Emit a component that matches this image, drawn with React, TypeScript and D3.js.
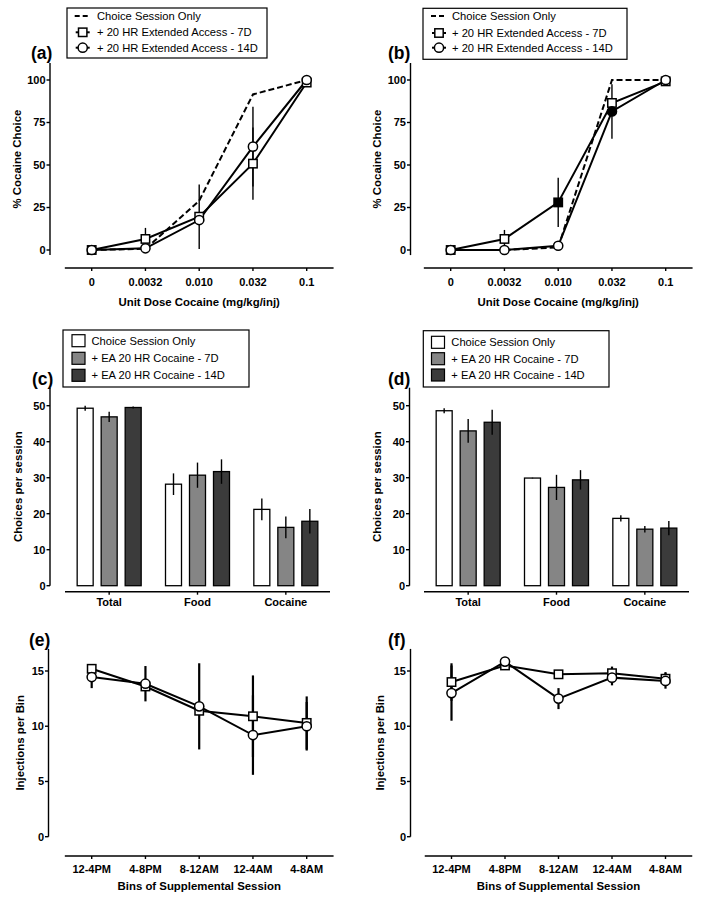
import React from "react";
import * as d3 from "d3";

// ---------- DATA ----------
const doseLabels = ["0", "0.0032", "0.010", "0.032", "0.1"];

const aChoiceOnly = [0, 0.7, 29, 91.5, 100];
const a7D = [0, 6.5, 19.6, 50.8, 98.5];
const a7DErr = [0, 6.5, 19, 21.3, 0];
const a14D = [0, 1, 17.6, 60.8, 100];
const a14DErr = [0, 0, 0, 23.5, 0];

const bChoiceOnly = [0, 0, 1.5, 100, 100];
const b7D = [0, 6.5, 28, 86.5, 99.2];
const b7DErr = [0, 5.3, 14.5, 0, 0];
const b7DFilled = [false, false, true, false, false];
const b14D = [0, 0, 2.5, 81.5, 100];
const b14DErr = [0, 0, 0, 16, 0];
const b14DFilled = [false, false, false, true, false];

const groups = ["Total", "Food", "Cocaine"];
const cChoiceOnly = [49.3, 28.2, 21.2];
const cChoiceOnlyErr = [0.7, 3, 3];
const c7D = [46.9, 30.7, 16.2];
const c7DErr = [1.4, 3.5, 3];
const c14D = [49.5, 31.7, 17.9];
const c14DErr = [0.3, 3.4, 3.4];

const dChoiceOnly = [48.6, 29.9, 18.7];
const dChoiceOnlyErr = [0.7, 0.1, 0.9];
const d7D = [43.0, 27.3, 15.7];
const d7DErr = [3.3, 3.5, 0.9];
const d14D = [45.4, 29.4, 16.0];
const d14DErr = [3.5, 2.7, 2.0];

const bins = ["12-4PM", "4-8PM", "8-12AM", "12-4AM", "4-8AM"];
const e7D = [15.2, 13.6, 11.4, 10.9, 10.3];
const e7DErr = [0, 0, 0, 3.7, 2.4];
const e14D = [14.45, 13.85, 11.8, 9.2, 10.0];
const e14DErr = [1.0, 1.6, 3.9, 3.6, 2.2];

const f7D = [14.0, 15.5, 14.7, 14.8, 14.3];
const f7DErr = [1.7, 0, 0, 0.6, 0.6];
const f14D = [13.0, 15.85, 12.5, 14.4, 14.1];
const f14DErr = [2.5, 0, 0.95, 0.7, 0.7];

const lineLegend = ["Choice Session Only", "+ 20 HR Extended Access - 7D", "+ 20 HR Extended Access - 14D"];
const barLegend = ["Choice Session Only", "+ EA 20 HR Cocaine - 7D", "+ EA 20 HR Cocaine - 14D"];
const barColors = ["#ffffff", "#858585", "#3b3b3b"];

const pctTicks = [0, 25, 50, 75, 100];
const choiceTicks = [0, 10, 20, 30, 40, 50];
const injTicks = [0, 5, 10, 15];

const FONT = "'Liberation Sans', Arial, Helvetica, sans-serif";
const TICK_FS = 11;
const TITLE_FS = 11.4;
const LEG_FS = 11.2;
const PANEL_FS = 17.5;

type Series = {
  values: number[];
  err: number[];
  marker: "square" | "circle" | "none";
  dashed?: boolean;
  filled?: boolean[];
};

function Marker({ kind, x, y, filled }: { kind: string; x: number; y: number; filled?: boolean }) {
  const fill = filled ? "#000" : "#fff";
  if (kind === "square")
    return <rect x={x - 4.2} y={y - 4.2} width={8.4} height={8.4} fill={fill} stroke="#000" strokeWidth={1.5} />;
  if (kind === "circle") return <circle cx={x} cy={y} r={4.6} fill={fill} stroke="#000" strokeWidth={1.5} />;
  return null;
}

function YAxis({ x, y, ticks, ext }: { x: number; y: d3.ScaleLinear<number, number>; ticks: number[]; ext: [number, number] }) {
  return (
    <g>
      <line x1={x} x2={x} y1={y(ext[1])} y2={y(ext[0])} stroke="#000" strokeWidth={1.4} />
      {ticks.map((t) => (
        <g key={t}>
          <line x1={x - 3.5} x2={x} y1={y(t)} y2={y(t)} stroke="#000" strokeWidth={1.4} />
          <text x={x - 4.5} y={y(t)} dy="0.36em" textAnchor="end" fontSize={TICK_FS} fontWeight="bold" fontFamily={FONT}>
            {t}
          </text>
        </g>
      ))}
    </g>
  );
}

function LinePanel(p: {
  firstX: number;
  step: number;
  yAxisX: number;
  yScale: d3.ScaleLinear<number, number>;
  yTicks: number[];
  yExt: [number, number];
  xAxisY: number;
  cats: string[];
  series: Series[];
  ylabel: string;
  ylabelX: number;
  xlabel: string;
  tickLabelY: number;
  xlabelY: number;
  panel: string;
  panelX: number;
  panelY: number;
  errW: number;
  legend?: { x: number; y: number; w: number; h: number; symX: number; textX: number; rows: number[] };
}) {
  const x = d3.scaleLinear().domain([0, p.cats.length - 1]).range([p.firstX, p.firstX + p.step * (p.cats.length - 1)]);
  const y = p.yScale;
  const idx = d3.range(p.cats.length);
  const ymid = (y(p.yExt[0]) + y(p.yExt[1])) / 2;
  return (
    <g>
      <text x={p.panelX} y={p.panelY} fontSize={PANEL_FS} fontWeight="bold" fontFamily={FONT}>
        {p.panel}
      </text>
      <YAxis x={p.yAxisX} y={y} ticks={p.yTicks} ext={p.yExt} />
      <line x1={x(-0.5)} x2={x(p.cats.length - 0.5)} y1={p.xAxisY} y2={p.xAxisY} stroke="#000" strokeWidth={1.4} />
      {idx.map((i) => (
        <g key={i}>
          <line x1={x(i)} x2={x(i)} y1={p.xAxisY} y2={p.xAxisY + 3} stroke="#000" strokeWidth={1.4} />
          <text x={x(i)} y={p.tickLabelY} textAnchor="middle" fontSize={TICK_FS} fontWeight="bold" fontFamily={FONT}>
            {p.cats[i]}
          </text>
        </g>
      ))}
      <text x={(x(-0.5) + x(p.cats.length - 0.5)) / 2} y={p.xlabelY} textAnchor="middle" fontSize={TITLE_FS} fontWeight="bold" fontFamily={FONT}>
        {p.xlabel}
      </text>
      <text transform={`translate(${p.ylabelX},${ymid}) rotate(-90)`} textAnchor="middle" dy="0.35em" fontSize={TITLE_FS} fontWeight="bold" fontFamily={FONT}>
        {p.ylabel}
      </text>
      {p.series.map((s, k) => {
        const gen = d3
          .line<number>()
          .x((_, i) => x(i))
          .y((v) => y(v));
        return (
          <path key={k} d={gen(s.values) || ""} fill="none" stroke="#000" strokeWidth={2} strokeDasharray={s.dashed ? "6,3" : undefined} />
        );
      })}
      {p.series.map((s, k) =>
        s.values.map((v, i) =>
          s.err[i] > 0 ? (
            <line key={`e${k}-${i}`} x1={x(i)} x2={x(i)} y1={y(v + s.err[i])} y2={y(v - s.err[i])} stroke="#000" strokeWidth={p.errW} />
          ) : null
        )
      )}
      {p.series.map((s, k) =>
        s.values.map((v, i) => <Marker key={`m${k}-${i}`} kind={s.marker} x={x(i)} y={y(v)} filled={s.filled ? s.filled[i] : false} />)
      )}
      {p.legend && (
        <g>
          <rect x={p.legend.x} y={p.legend.y} width={p.legend.w} height={p.legend.h} fill="#fff" stroke="#000" strokeWidth={1.2} />
          {lineLegend.map((lab, i) => {
            const ly = p.legend!.rows[i];
            const sx = p.legend!.symX;
            return (
              <g key={i}>
                {i === 0 ? (
                  <line x1={sx - 8} x2={sx + 8} y1={ly} y2={ly} stroke="#000" strokeWidth={2} strokeDasharray="5,3" />
                ) : (
                  <g>
                    <line x1={sx - 7} x2={sx + 7} y1={ly} y2={ly} stroke="#000" strokeWidth={2} />
                    <Marker kind={i === 1 ? "square" : "circle"} x={sx} y={ly} />
                  </g>
                )}
                <text x={p.legend!.textX} y={ly} dy="0.36em" fontSize={LEG_FS} fontFamily={FONT}>
                  {lab}
                </text>
              </g>
            );
          })}
        </g>
      )}
    </g>
  );
}

function BarPanel(p: {
  x0: number;
  x1: number;
  yAxisX: number;
  vals: number[][];
  errs: number[][];
  panel: string;
  panelX: number;
  panelY: number;
  ylabelX: number;
  legend: { x: number; y: number; w: number; h: number; symX: number; textX: number; rows: number[] };
}) {
  const y = d3.scaleLinear().domain([0, 50]).range([585.7, 405.7]);
  const xb = d3.scaleBand<string>().domain(groups).range([p.x0, p.x1]);
  const xAxisY = 591.7;
  const bw = 16;
  const gap = 24;
  const ymid = (y(0) + y(55)) / 2;
  return (
    <g>
      <text x={p.panelX} y={p.panelY} fontSize={PANEL_FS} fontWeight="bold" fontFamily={FONT}>
        {p.panel}
      </text>
      <YAxis x={p.yAxisX} y={y} ticks={choiceTicks} ext={[0, 55]} />
      <line x1={p.x0} x2={p.x1} y1={xAxisY} y2={xAxisY} stroke="#000" strokeWidth={1.4} />
      {groups.map((g) => {
        const cx = (xb(g) as number) + xb.bandwidth() / 2;
        return (
          <g key={g}>
            <line x1={cx} x2={cx} y1={xAxisY} y2={xAxisY + 3} stroke="#000" strokeWidth={1.4} />
            <text x={cx} y={606} textAnchor="middle" fontSize={TICK_FS} fontWeight="bold" fontFamily={FONT}>
              {g}
            </text>
          </g>
        );
      })}
      <text transform={`translate(${p.ylabelX},${ymid}) rotate(-90)`} textAnchor="middle" dy="0.35em" fontSize={TITLE_FS} fontWeight="bold" fontFamily={FONT}>
        Choices per session
      </text>
      {p.vals.map((sv, k) =>
        sv.map((v, gi) => {
          const cx = (xb(groups[gi]) as number) + xb.bandwidth() / 2 + (k - 1) * gap;
          const e = p.errs[k][gi];
          return (
            <g key={`${k}-${gi}`}>
              <rect x={cx - bw / 2} y={y(v)} width={bw} height={y(0) - y(v)} fill={barColors[k]} stroke="#000" strokeWidth={1.3} />
              {e > 0 && <line x1={cx} x2={cx} y1={y(v + e)} y2={y(v - e)} stroke="#000" strokeWidth={1.4} />}
            </g>
          );
        })
      )}
      <rect x={p.legend.x} y={p.legend.y} width={p.legend.w} height={p.legend.h} fill="#fff" stroke="#000" strokeWidth={1.2} />
      {barLegend.map((lab, i) => (
        <g key={i}>
          <rect x={p.legend.symX} y={p.legend.rows[i] - 6} width={13} height={12} fill={barColors[i]} stroke="#000" strokeWidth={1.2} />
          <text x={p.legend.textX} y={p.legend.rows[i]} dy="0.36em" fontSize={LEG_FS} fontFamily={FONT}>
            {lab}
          </text>
        </g>
      ))}
    </g>
  );
}

export default function App() {
  const yPct = d3.scaleLinear().domain([0, 100]).range([250, 80]);
  const yInj = d3.scaleLinear().domain([0, 15]).range([836.7, 671]);
  return (
    <svg width={707} height={900} style={{ position: "absolute", left: 0, top: 0, background: "#fff" }}>
      <rect width={707} height={900} fill="#fff" />
      <LinePanel
        firstX={91.7}
        step={53.75}
        yAxisX={50}
        yScale={yPct}
        yTicks={pctTicks}
        yExt={[-3, 110]}
        xAxisY={268}
        cats={doseLabels}
        series={[
          { values: aChoiceOnly, err: [0, 0, 0, 0, 0], marker: "none", dashed: true },
          { values: a7D, err: a7DErr, marker: "square" },
          { values: a14D, err: a14DErr, marker: "circle" },
        ]}
        ylabel="% Cocaine Choice"
        ylabelX={17}
        xlabel="Unit Dose Cocaine (mg/kg/inj)"
        tickLabelY={285.5}
        xlabelY={305.5}
        panel="(a)"
        panelX={31}
        panelY={59}
        errW={1.4}
        legend={{ x: 67, y: 8, w: 200, h: 50, symX: 82.7, textX: 97, rows: [16, 32.3, 47.7] }}
      />
      <LinePanel
        firstX={450.7}
        step={53.75}
        yAxisX={410.5}
        yScale={yPct}
        yTicks={pctTicks}
        yExt={[-3, 110]}
        xAxisY={268}
        cats={doseLabels}
        series={[
          { values: bChoiceOnly, err: [0, 0, 0, 0, 0], marker: "none", dashed: true },
          { values: b7D, err: b7DErr, marker: "square", filled: b7DFilled },
          { values: b14D, err: b14DErr, marker: "circle", filled: b14DFilled },
        ]}
        ylabel="% Cocaine Choice"
        ylabelX={377}
        xlabel="Unit Dose Cocaine (mg/kg/inj)"
        tickLabelY={285.5}
        xlabelY={305.5}
        panel="(b)"
        panelX={388}
        panelY={59}
        errW={1.4}
        legend={{ x: 423, y: 8.3, w: 204, h: 51, symX: 439, textX: 452, rows: [16, 33, 47.7] }}
      />
      <BarPanel
        x0={65}
        x1={330}
        yAxisX={50}
        vals={[cChoiceOnly, c7D, c14D]}
        errs={[cChoiceOnlyErr, c7DErr, c14DErr]}
        panel="(c)"
        panelX={32}
        panelY={385}
        ylabelX={18}
        legend={{ x: 63, y: 330, w: 186, h: 57, symX: 72, textX: 91.5, rows: [340.7, 358.3, 375.3] }}
      />
      <BarPanel
        x0={424}
        x1={689}
        yAxisX={409.5}
        vals={[dChoiceOnly, d7D, d14D]}
        errs={[dChoiceOnlyErr, d7DErr, d14DErr]}
        panel="(d)"
        panelX={388}
        panelY={385}
        ylabelX={377}
        legend={{ x: 423.3, y: 330.7, w: 185.7, h: 56.3, symX: 431.5, textX: 451.3, rows: [342.3, 358.7, 375] }}
      />
      <LinePanel
        firstX={91.7}
        step={53.75}
        yAxisX={48.5}
        yScale={yInj}
        yTicks={injTicks}
        yExt={[0, 17]}
        xAxisY={856}
        cats={bins}
        series={[
          { values: e7D, err: e7DErr, marker: "square" },
          { values: e14D, err: e14DErr, marker: "circle" },
        ]}
        ylabel="Injections per Bin"
        ylabelX={20}
        xlabel="Bins of Supplemental Session"
        tickLabelY={872.5}
        xlabelY={889.5}
        panel="(e)"
        panelX={29}
        panelY={646}
        errW={2.2}
        legend={undefined}
      />
      <LinePanel
        firstX={451.5}
        step={53.5}
        yAxisX={410.5}
        yScale={yInj}
        yTicks={injTicks}
        yExt={[0, 17]}
        xAxisY={856}
        cats={bins}
        series={[
          { values: f7D, err: f7DErr, marker: "square" },
          { values: f14D, err: f14DErr, marker: "circle" },
        ]}
        ylabel="Injections per Bin"
        ylabelX={380}
        xlabel="Bins of Supplemental Session"
        tickLabelY={872.5}
        xlabelY={889.5}
        panel="(f)"
        panelX={388}
        panelY={646}
        errW={2.2}
        legend={undefined}
      />
    </svg>
  );
}
